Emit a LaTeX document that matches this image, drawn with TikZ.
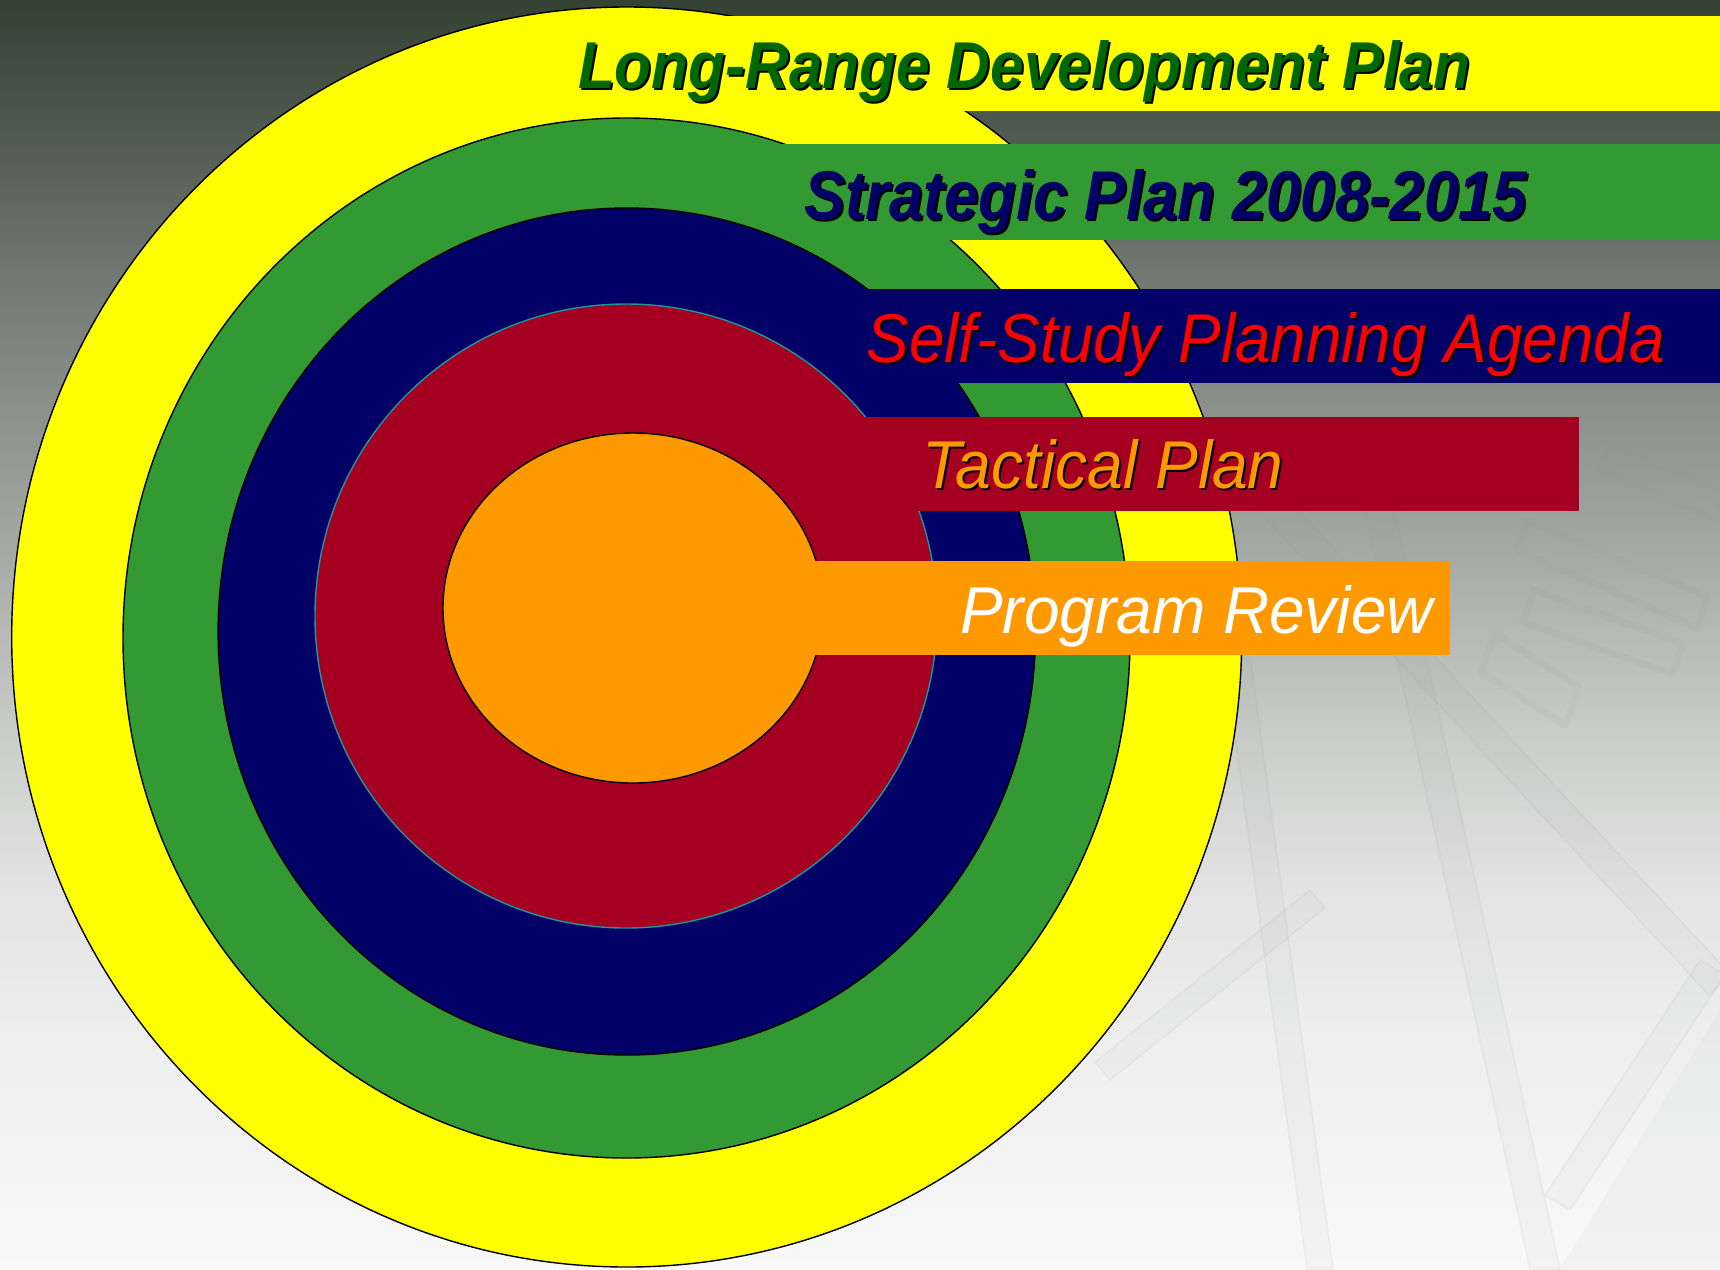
\documentclass[tikz,border=0pt]{standalone}
\usepackage{fontspec}
\usepackage{graphicx}
\newfontfamily\arialf{Liberation Sans}
\definecolor{cyel}{HTML}{FFFF00}
\definecolor{cgrn}{HTML}{339933}
\definecolor{cnavy}{HTML}{000066}
\definecolor{cred}{HTML}{A50021}
\definecolor{corg}{HTML}{FF9900}
\definecolor{cteal}{HTML}{17999F}
\definecolor{tgrn}{HTML}{006600}
\definecolor{tred}{HTML}{FF0000}
\definecolor{bga}{HTML}{334233}
\definecolor{bgb}{HTML}{4F5A50}
\definecolor{bgc}{HTML}{6F756F}
\definecolor{bgd}{HTML}{8A8F89}
\definecolor{bge}{HTML}{A8ACA6}
\definecolor{bgf}{HTML}{C9CBC9}
\definecolor{bgg}{HTML}{E2E3E2}
\definecolor{bgh}{HTML}{EFEFEF}
\definecolor{bgi}{HTML}{F8F8F8}
\definecolor{beamc}{HTML}{8C9290}
\tikzset{
  ring/.style={line width=1.4pt},
  bar/.style={draw=none},
  lbl/.style={anchor=base west, inner sep=0pt, outer sep=0pt},
  beam/.style={fill=beamc, fill opacity=0.045, draw=beamc, draw opacity=0.07, line width=2pt},
  rung/.style={draw=beamc, draw opacity=0.07, line width=7pt, line join=round},
}
\newcommand{\boldlbl}[3]{\resizebox{#1pt}{#2pt}{\arialf\bfseries\itshape #3}}
\newcommand{\plainlbl}[3]{\resizebox{#1pt}{#2pt}{\arialf\itshape #3}}
\begin{document}
\begin{tikzpicture}[x=1pt,y=-1pt]
\useasboundingbox (0,0) rectangle (1720,1269);
% background gradient
\shade[top color=bga, bottom color=bgb] (0,0) rectangle (1720,130.5);
\shade[top color=bgb, bottom color=bgc] (0,130) rectangle (1720,263.5);
\shade[top color=bgc, bottom color=bgd] (0,263) rectangle (1720,405.5);
\shade[top color=bgd, bottom color=bge] (0,405) rectangle (1720,566.5);
\shade[top color=bge, bottom color=bgf] (0,566) rectangle (1720,728.5);
\shade[top color=bgf, bottom color=bgg] (0,728) rectangle (1720,890.5);
\shade[top color=bgg, bottom color=bgh] (0,890) rectangle (1720,1052.5);
\shade[top color=bgh, bottom color=bgi] (0,1052) rectangle (1720,1269);

% faint tower structure in the background
\begin{scope}
\clip (0,0) rectangle (1720,1269);
\path[beam] (1222,640) -- (1248,640) -- (1333,1269) -- (1307,1269) -- cycle;
\path[beam] (1360,490) -- (1390,490) -- (1560,1269) -- (1530,1269) -- cycle;
\path[beam] (1261,470) -- (1731,975) -- (1709,995) -- (1239,490) -- cycle;
\path[beam] (1310,890) -- (1325,908) -- (1110,1080) -- (1095,1062) -- cycle;
\path[beam] (1700,960) -- (1725,975) -- (1570,1210) -- (1545,1195) -- cycle;
\path[rung] (1517,550) -- (1528,521) -- (1708,597) -- (1697,628) -- cycle;
\path[rung] (1523,622) -- (1534,590) -- (1683,644) -- (1672,674) -- cycle;
\path[rung] (1481,672) -- (1495,633) -- (1579,687) -- (1565,725) -- cycle;
\path[rung] (1600,470) -- (1610,445) -- (1720,490) -- (1720,520) -- cycle;
\fill[beamc, opacity=0.05] (1560,1269) -- (1720,1010) -- (1720,1269) -- cycle;
\end{scope}

% yellow layer
\filldraw[fill=cyel, draw=black, ring] (626.7,637) ellipse [x radius=615, y radius=630];
\fill[cyel, bar] (626.7,15.7) rectangle (1720,110.8);
% green layer
\filldraw[fill=cgrn, draw=black, ring] (626.5,638) ellipse [x radius=503.5, y radius=520];
\fill[cgrn, bar] (626.5,144) rectangle (1720,239.5);
% navy layer
\filldraw[fill=cnavy, draw=black, ring] (626.8,631.5) ellipse [x radius=408.7, y radius=423.5];
\fill[cnavy, bar] (626.8,288.5) rectangle (1720,383);
% red layer
\filldraw[fill=cred, draw=cteal, ring] (626,616) ellipse [x radius=311, y radius=312];
\fill[cred, bar] (626,417) rectangle (1578.5,511);
% orange layer
\filldraw[fill=corg, draw=black, ring] (633,608) ellipse [x radius=190, y radius=175];
\fill[corg, bar] (633,560.5) rectangle (1450,655);

% labels
\node[lbl, text=black] (t1s) at (580,90) {\boldlbl{892}{48}{Long-Range Development Plan}};
\node[lbl, text=tgrn] (t1) at (578,88) {\boldlbl{892}{48}{Long-Range Development Plan}};
\node[lbl, text=black] (t2s) at (806,221) {\boldlbl{723}{50}{Strategic Plan 2008-2015}};
\node[lbl, text=cnavy] (t2) at (804,219) {\boldlbl{723}{50}{Strategic Plan 2008-2015}};
\node[lbl, text=black] (t3s) at (868.5,364) {\plainlbl{798}{50}{Self-Study Planning Agenda}};
\node[lbl, text=tred] (t3) at (866.5,362) {\plainlbl{798}{50}{Self-Study Planning Agenda}};
\node[lbl, text=black] (t4s) at (924.5,490) {\plainlbl{361}{49}{Tactical Plan}};
\node[lbl, text=corg] (t4) at (922.5,488) {\plainlbl{361}{49}{Tactical Plan}};
\node[lbl, text=white] (t5) at (960,633) {\plainlbl{473}{48}{Program Review}};
\end{tikzpicture}
\end{document}
